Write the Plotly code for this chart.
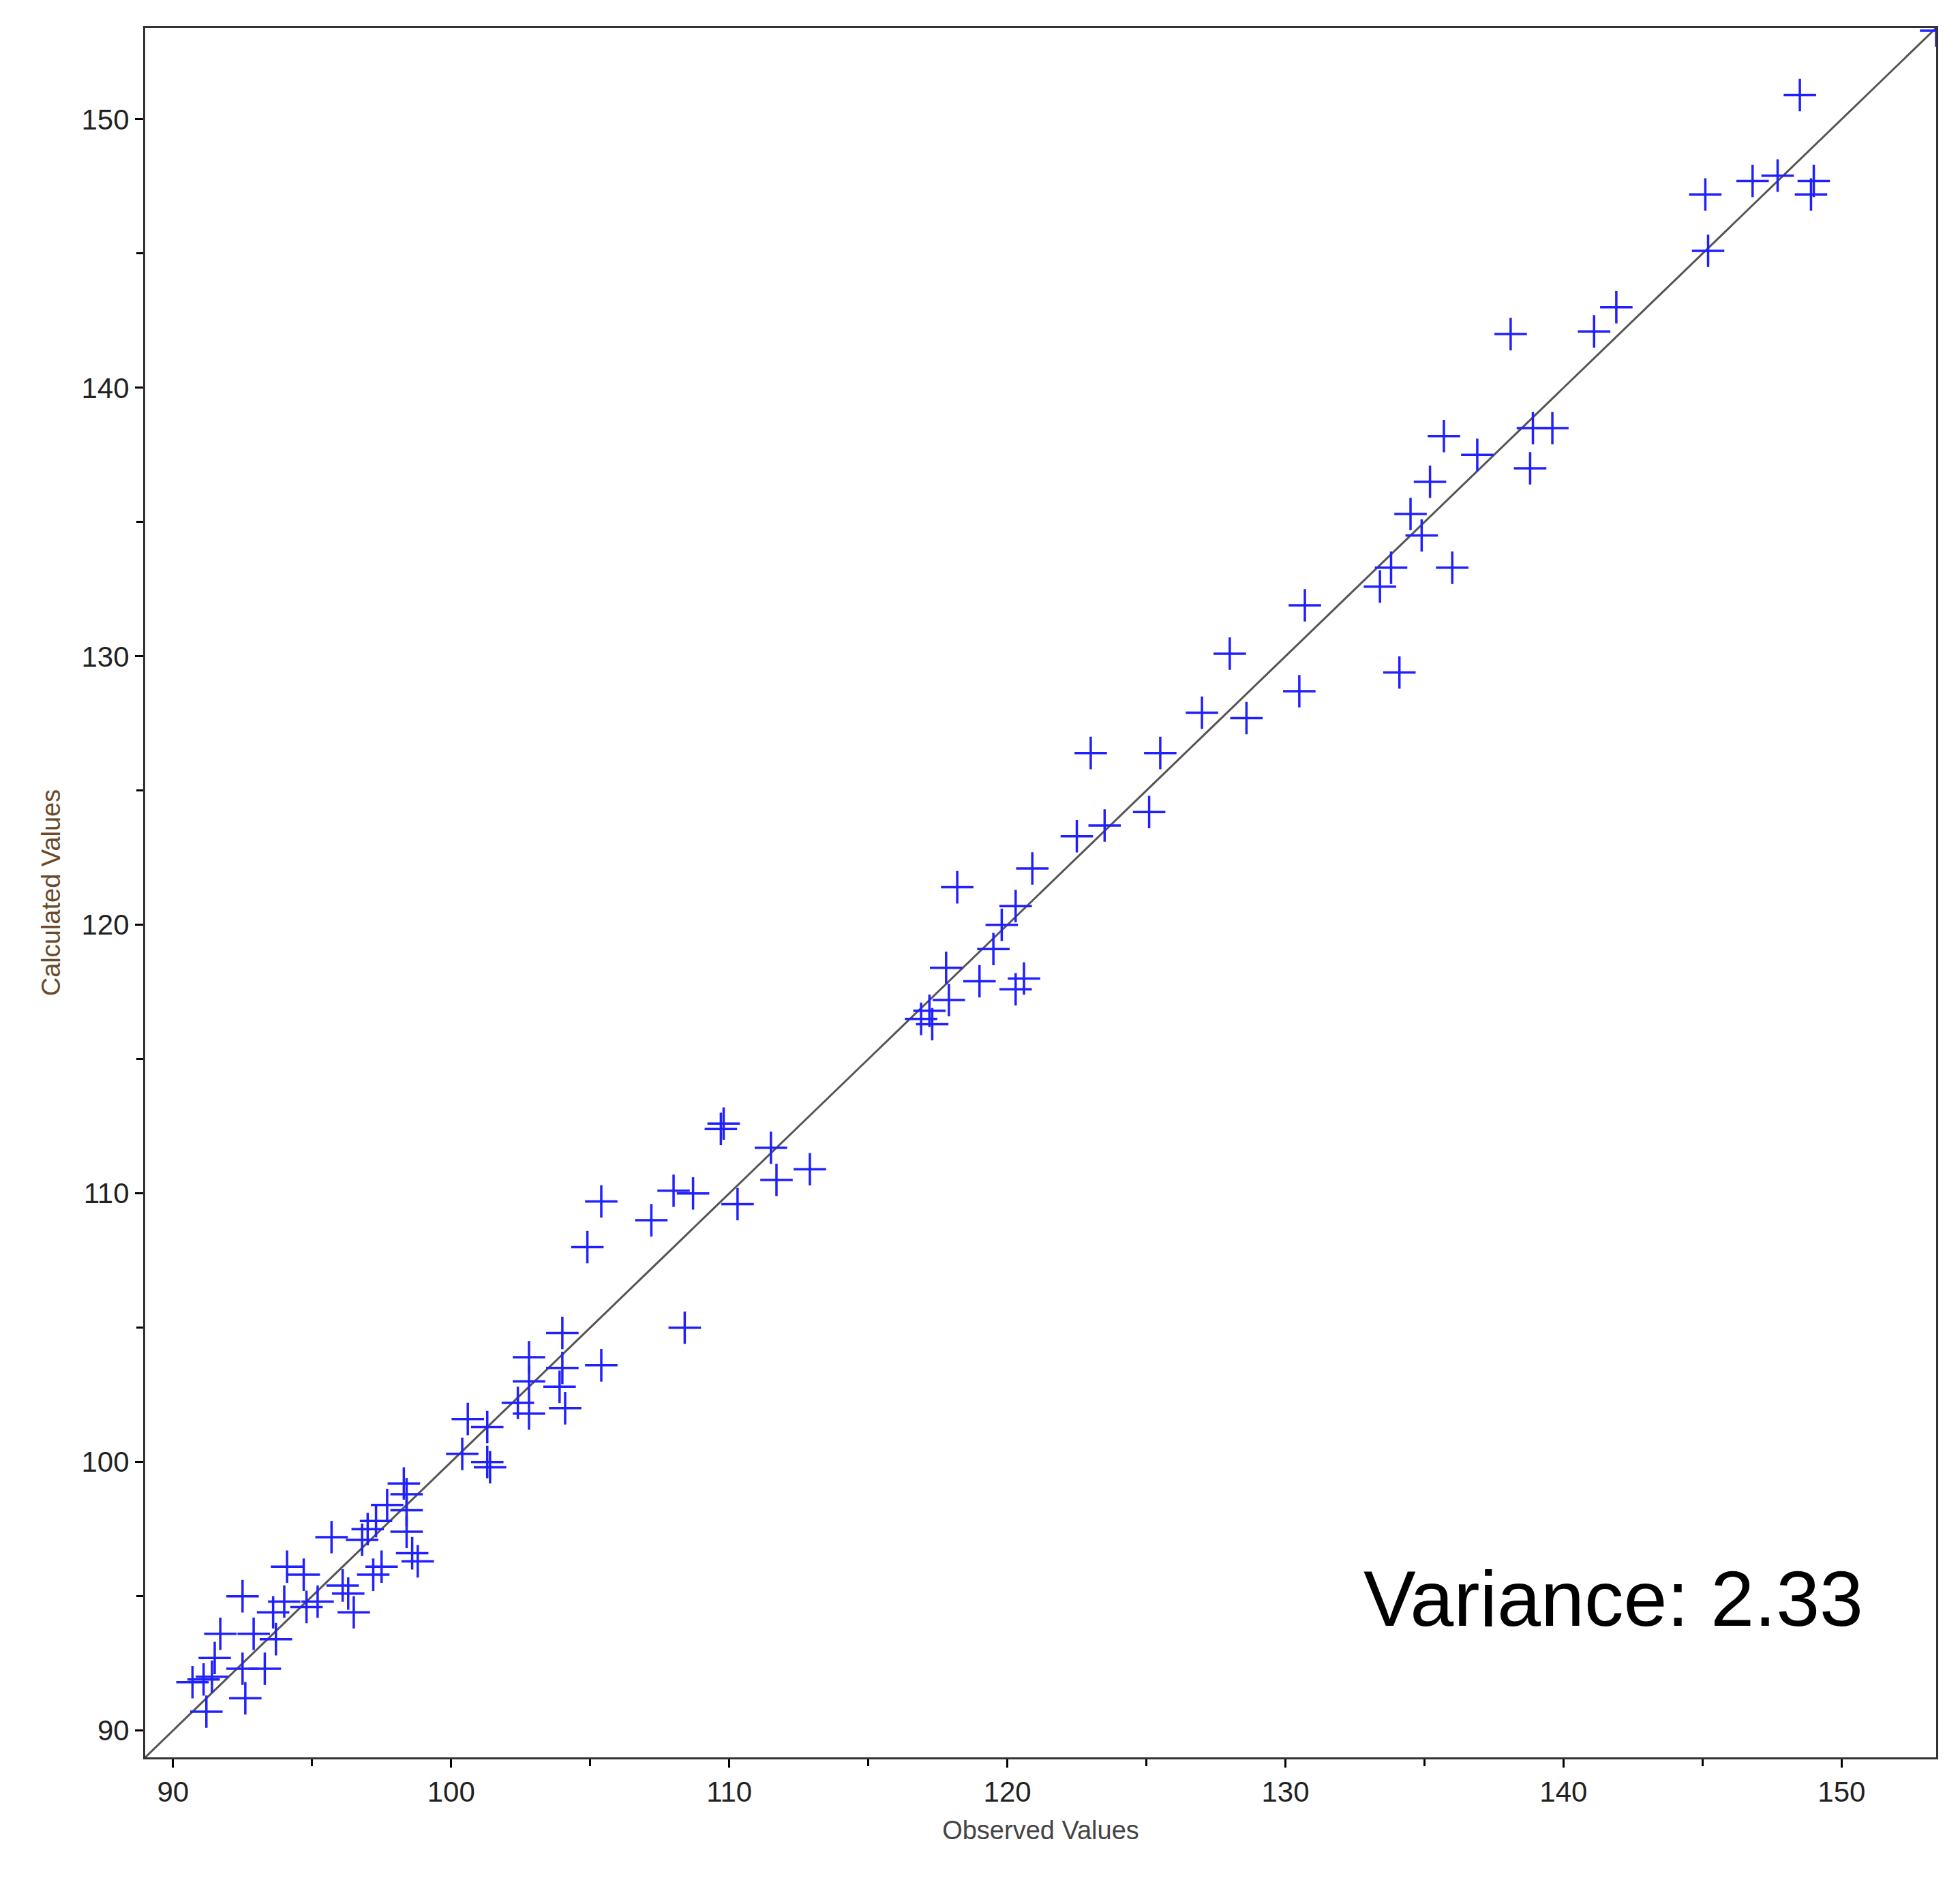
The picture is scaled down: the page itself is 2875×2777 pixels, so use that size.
import plotly.graph_objects as go

observed = [153.4,148.5,149.0,148.9,145.1,146.8,147.7,145.2,141.9,141.1,138.1,139.6,138.9,138.8,136.9,135.7,135.2,134.5,134.9,136.0,133.8,133.4,134.1,130.7,130.5,128.0,127.0,128.6,123.0,125.5,122.5,123.5,125.1,120.9,118.2,120.3,119.8,119.5,117.8,119.0,120.6,120.3,117.9,117.2,116.9,117.3,109.8,109.7,111.5,112.9,111.7,110.3,108.7,108.0,107.2,105.4,104.9,108.4,104.0,105.4,102.8,104.0,102.8,103.9,102.4,104.1,102.8,100.6,101.3,100.4,101.3,101.4,98.3,98.4,97.7,98.4,97.3,97.0,96.8,98.4,98.6,95.7,98.8,97.5,97.2,94.1,94.7,96.1,96.3,96.5,95.2,94.8,94.0,92.5,93.6,91.7,92.9,93.7,91.5,92.5,93.3,91.1,91.4,90.7,92.6,91.2]
calculated = [153.3,150.9,147.7,147.2,147.2,147.7,147.9,145.1,143.0,142.1,142.0,138.5,138.5,137.0,137.5,138.2,136.5,135.3,134.5,133.3,133.3,132.6,129.4,131.9,128.7,130.1,127.9,127.7,126.4,126.4,123.3,123.7,124.2,122.1,121.4,120.7,120.0,119.1,118.4,117.9,118.0,117.6,117.2,116.8,116.5,116.3,112.6,112.4,111.7,110.9,110.5,109.6,110.0,110.1,109.0,109.7,108.0,105.0,104.8,103.6,103.9,103.5,103.0,102.8,102.2,102.0,101.8,101.6,101.3,100.3,100.0,99.8,99.2,98.8,98.4,98.2,97.8,97.5,97.1,97.4,96.6,97.2,96.3,96.1,95.8,96.1,95.8,95.4,95.1,94.4,94.8,94.6,94.8,95.0,94.4,93.6,93.6,93.4,92.7,92.3,92.3,91.9,92.0,91.8,91.2,90.7]
line_ends = [89.0, 153.4]
variance_text = "Variance: 2.33"

fig = go.Figure()
fig.add_trace(go.Scatter(x=line_ends, y=line_ends, mode="lines",
                         line=dict(color="#555555", width=3), hoverinfo="skip"))
fig.add_trace(go.Scatter(x=observed, y=calculated, mode="markers",
                         marker=dict(symbol="cross-thin-open", size=34, color="#2020ff",
                                     line=dict(color="#2020ff", width=3.5))))
axis_common = dict(range=[89.0, 153.4], dtick=10, tick0=90, ticks="outside",
                   ticklen=12, tickwidth=3, tickcolor="black",
                   showgrid=False, zeroline=False, showline=True, mirror=True,
                   linecolor="#333333", linewidth=3,
                   tickfont=dict(family="Liberation Sans", size=42, color="#222222"),
                   minor=dict(dtick=5, tick0=90, ticks="outside", ticklen=10,
                              tickwidth=3, tickcolor="black", showgrid=False))
fig.update_xaxes(**axis_common, title=dict(text="Observed Values", standoff=20,
                 font=dict(family="Liberation Sans", size=38, color="#444444")))
fig.update_yaxes(**axis_common, title=dict(text="Calculated Values", standoff=20,
                 font=dict(family="Liberation Sans", size=38, color="#6b4a2a")))
fig.add_annotation(x=0.96, y=0.092, xref="paper", yref="paper", xanchor="right",
                   yanchor="middle", text=variance_text, showarrow=False,
                   font=dict(family="Liberation Sans", size=115, color="black"))
fig.update_layout(width=2875, height=2777, showlegend=False,
                  plot_bgcolor="white", paper_bgcolor="white",
                  margin=dict(l=205, r=43, t=33, b=207))
fig.write_html("out.html")
